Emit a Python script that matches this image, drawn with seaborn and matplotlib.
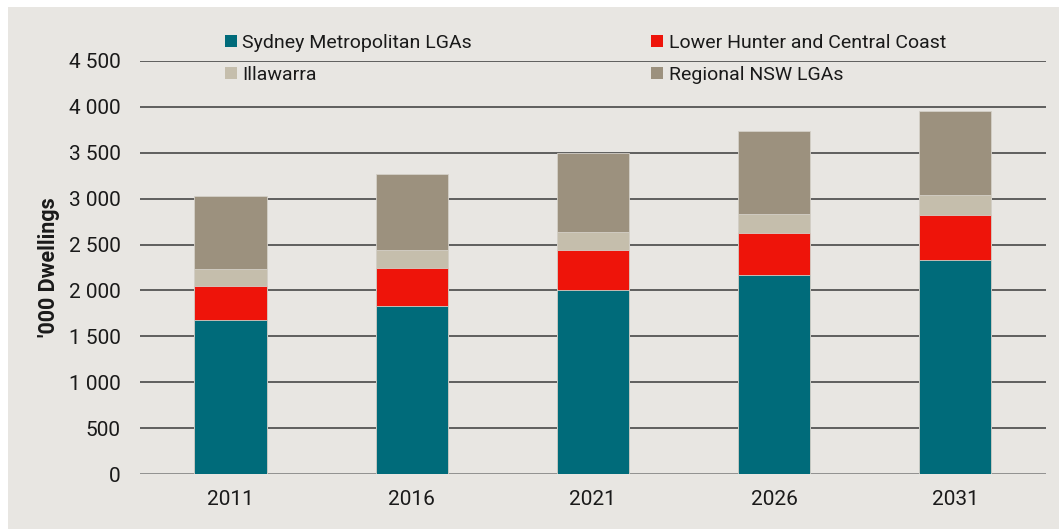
import numpy as np
import pandas as pd
import matplotlib
matplotlib.use("Agg")
import matplotlib.pyplot as plt
from matplotlib.patches import Rectangle, Patch
import seaborn as sns

years = ["2011", "2016", "2021", "2026", "2031"]
sydney = [1674, 1833, 2000, 2166, 2337]
lower_hunter = [380, 410, 438, 460, 482]
illawarra = [181, 192, 199, 211, 217]
regional = [790, 829, 863, 898, 921]

series_names = ["Sydney Metropolitan LGAs", "Lower Hunter and Central Coast",
                "Illawarra", "Regional NSW LGAs"]
colors = ["#006B7A", "#EE140A", "#C5BEAC", "#9C917E"]
y_ticks = [0, 500, 1000, 1500, 2000, 2500, 3000, 3500, 4000, 4500]

sns.set_theme(style="white")
plt.rcParams["font.family"] = ["Roboto", "DejaVu Sans"]

BG = "#E8E6E2"
fig = plt.figure(figsize=(10.59, 5.29), dpi=100)
fig.patch.set_facecolor("white")
fig.patches.append(Rectangle((8 / 1059, 0), 1 - 8 / 1059, 1 - 7 / 529,
                             transform=fig.transFigure, facecolor=BG,
                             edgecolor="none", zorder=-10))

ax = fig.add_axes([140 / 1059, 1 - 474.3 / 529, (1045.8 - 140) / 1059, (474.3 - 60.7) / 529])
ax.set_facecolor("none")

data = [sydney, lower_hunter, illawarra, regional]
cum = np.cumsum(np.array(data), axis=0)
df = pd.DataFrame({"year": years})
for i in range(3, -1, -1):
    df["v"] = cum[i]
    sns.barplot(data=df, x="year", y="v", color=colors[i], width=0.4,
                saturation=1, ax=ax, edgecolor="#d4d0c8", linewidth=0.6, zorder=3)

ax.set_ylim(0, 4500)
ax.set_xlim(-0.5, 4.5)
ax.set_yticks(y_ticks)
ax.set_yticklabels([f"{v:,}".replace(",", " ") for v in y_ticks], fontsize=15, color="#1a1a1a")
ax.tick_params(axis="x", labelsize=15, colors="#1a1a1a", length=0, pad=11)
ax.tick_params(axis="y", length=0, pad=14)
for v in y_ticks:
    ax.axhline(v, color="#3a3a3a" if v > 0 else "#7a7a7a", lw=1.1, zorder=1)
for s in ax.spines.values():
    s.set_visible(False)
ax.set_xlabel("")
ax.set_ylabel("'000 Dwellings", fontsize=15.5, fontweight="bold", color="#1a1a1a", labelpad=6)

handles = [Patch(facecolor=c, edgecolor="none") for c in colors]
order = [0, 2, 1, 3]
fig.legend([handles[i] for i in order], [series_names[i] for i in order],
           loc="upper left", bbox_to_anchor=(225 / 1059, 1 - 34 / 529),
           ncol=2, frameon=False, fontsize=14, handlelength=0.6, handleheight=0.6,
           handletextpad=0.3, columnspacing=9.2, labelspacing=0.72, borderpad=0,
           borderaxespad=0, labelcolor="#1a1a1a")

fig.savefig("out.png", dpi=100, facecolor=fig.get_facecolor())
